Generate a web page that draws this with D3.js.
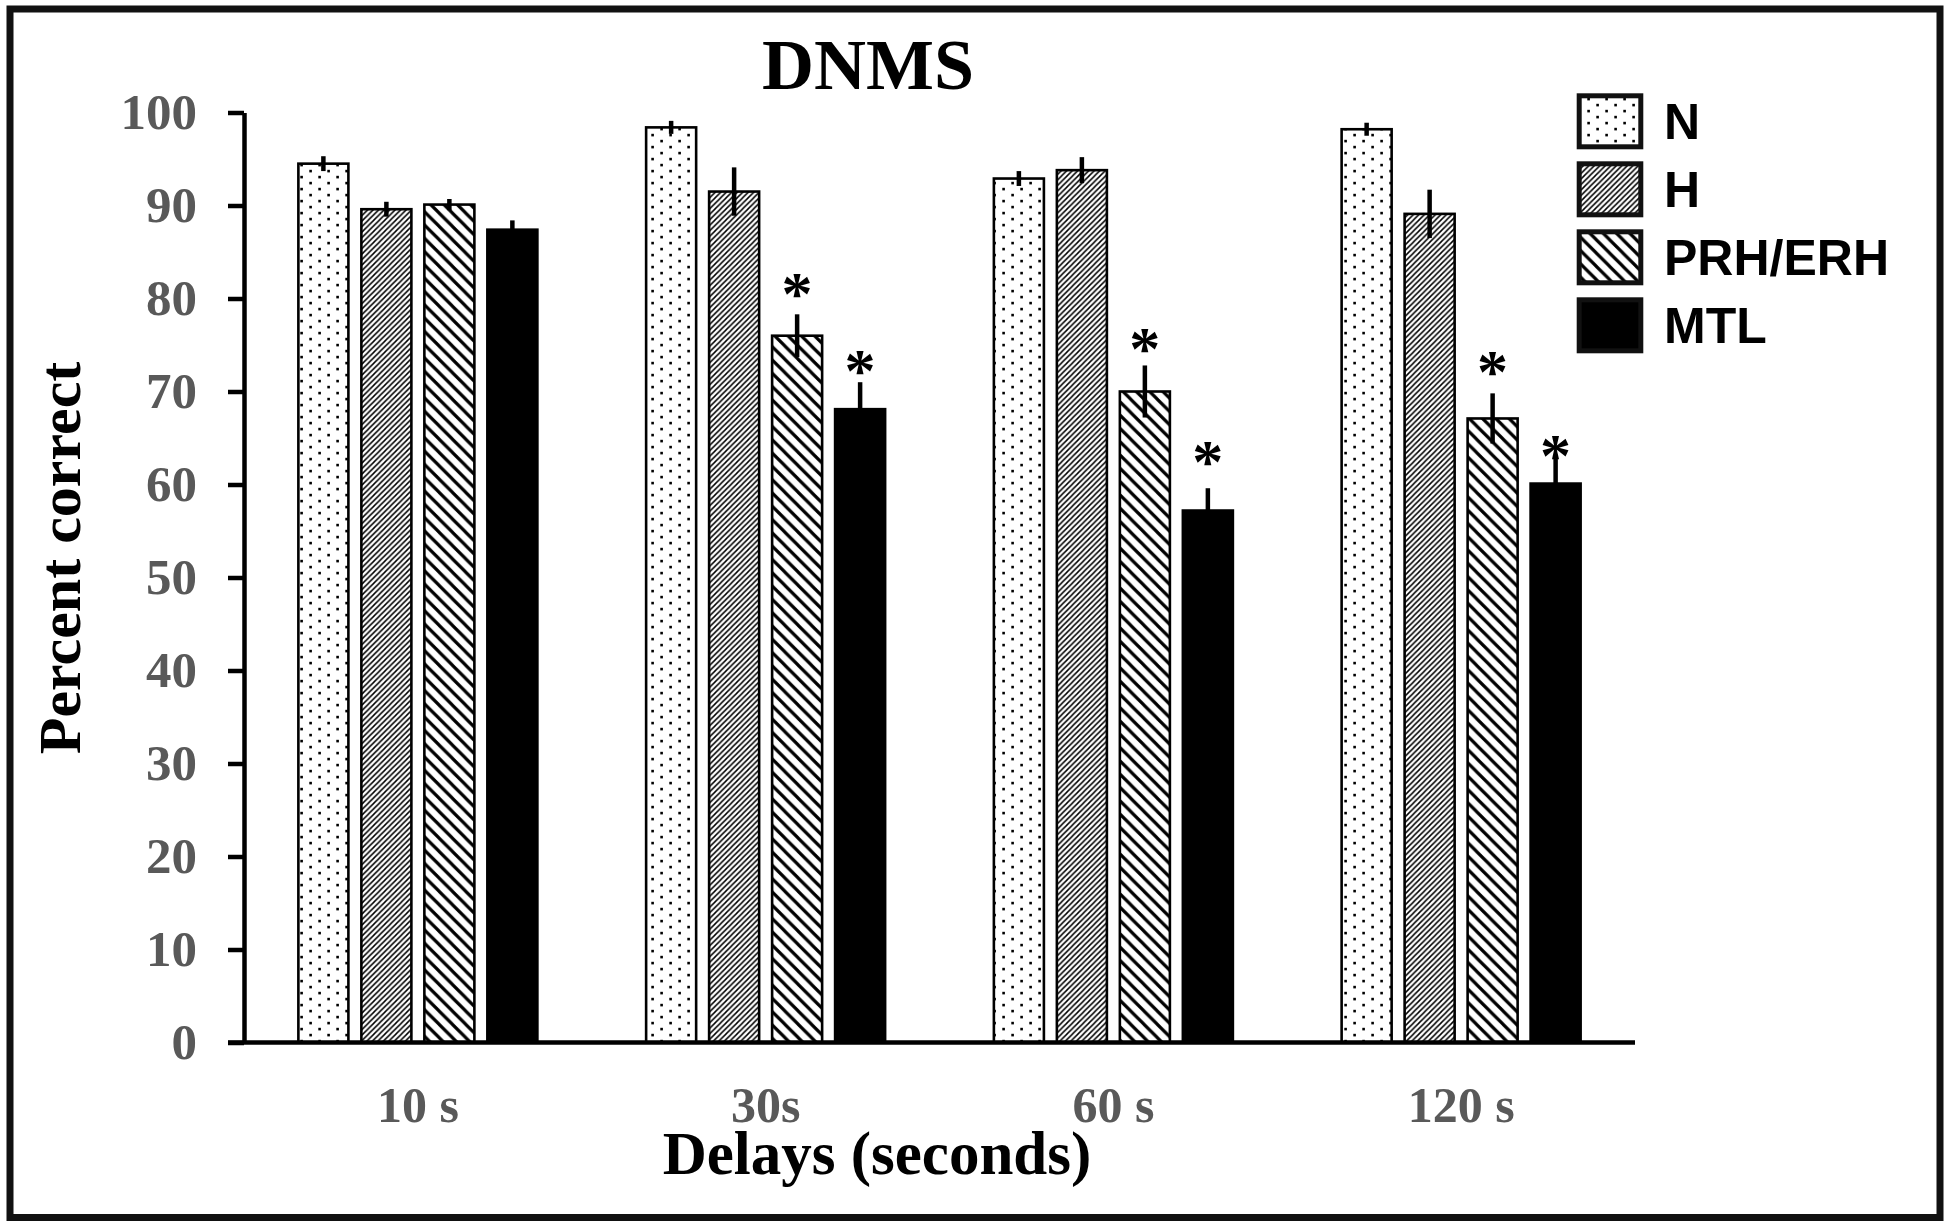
<!DOCTYPE html>
<html>
<head>
<meta charset="utf-8">
<script src="https://cdn.jsdelivr.net/npm/d3@7/dist/d3.min.js"></script>
<style>
  html, body { margin: 0; padding: 0; background: #fff; }
  svg { display: block; }
</style>
</head>
<body>
<svg id="chart" width="1950" height="1227"></svg>
<script>
// ---------- DATA ----------
const delays = ["10 s", "30s", "60 s", "120 s"];
const groups = ["N", "H", "PRH/ERH", "MTL"];
const valuesN   = [94.5, 98.4, 92.9, 98.2];
const valuesH   = [89.6, 91.5, 93.8, 89.1];
const valuesPRH = [90.1, 76.0, 70.0, 67.1];
const valuesMTL = [87.4, 68.1, 57.2, 60.1];
const errN   = [0.8, 0.7, 0.8, 0.7];
const errH   = [0.8, 2.6, 1.4, 2.6];
const errPRH = [0.6, 2.3, 2.8, 2.7];
const errMTL = [1.0, 2.9, 2.4, 3.0];
// significance marks (asterisk centre, in percent units); null = none
const starPRH = [null, 81.5, 75.5, 73.1];
const starMTL = [null, 73.2, 63.4, 64.1];
const yTicks = [0, 10, 20, 30, 40, 50, 60, 70, 80, 90, 100];
const titleText = "DNMS";
const xTitle = "Delays (seconds)";
const yTitle = "Percent correct";

const seriesVals = [valuesN, valuesH, valuesPRH, valuesMTL];
const seriesErr  = [errN, errH, errPRH, errMTL];
const seriesStar = [null, null, starPRH, starMTL];
const fills = ["url(#pDots)", "url(#pFine)", "url(#pWide)", "#000"];

const svg = d3.select("#chart");
const serif = "'Liberation Serif', 'Times New Roman', serif";
const sans = "'Liberation Sans', Arial, sans-serif";

// ---------- PATTERNS ----------
const defs = svg.append("defs");
const pd = defs.append("pattern").attr("id", "pDots").attr("patternUnits", "userSpaceOnUse")
  .attr("width", 18).attr("height", 12);
pd.append("rect").attr("width", 18).attr("height", 12).attr("fill", "#fff");
pd.append("rect").attr("x", 3.3).attr("y", 1.8).attr("width", 2.6).attr("height", 2.6).attr("fill", "#000");
pd.append("rect").attr("x", 12.3).attr("y", 7.8).attr("width", 2.6).attr("height", 2.6).attr("fill", "#000");

const s1 = 5.5;
const pf = defs.append("pattern").attr("id", "pFine").attr("patternUnits", "userSpaceOnUse")
  .attr("width", s1).attr("height", s1);
pf.append("rect").attr("width", s1).attr("height", s1).attr("fill", "#fff");
pf.append("path").attr("d", `M0,${s1} L${s1},0 M-1,1 L1,-1 M${s1-1},${s1+1} L${s1+1},${s1-1}`)
  .attr("stroke", "#000").attr("stroke-width", 1.5);

const s2 = 13.3;
const pw = defs.append("pattern").attr("id", "pWide").attr("patternUnits", "userSpaceOnUse")
  .attr("width", s2).attr("height", s2);
pw.append("rect").attr("width", s2).attr("height", s2).attr("fill", "#fff");
pw.append("path").attr("d", `M0,0 L${s2},${s2} M-3,${s2-3} L3,${s2+3} M${s2-3},-3 L${s2+3},3`)
  .attr("stroke", "#000").attr("stroke-width", 3.2);

// ---------- FRAME ----------
svg.append("rect").attr("x", 10).attr("y", 9).attr("width", 1930).attr("height", 1208.5)
  .attr("fill", "none").attr("stroke", "#111").attr("stroke-width", 7);

// ---------- SCALES ----------
const y = d3.scaleLinear().domain([0, 100]).range([1042.5, 112.5]);
const x0 = d3.scaleBand().domain(delays).range([244, 1635]).padding(0);
const groupW = 239;
const x1 = d3.scaleBand().domain(groups)
  .range([(x0.bandwidth() - groupW) / 2, (x0.bandwidth() + groupW) / 2])
  .paddingInner(0.206).paddingOuter(0);

// ---------- BARS ----------
const g = svg.append("g");
groups.forEach((grp, si) => {
  delays.forEach((d, di) => {
    const v = seriesVals[si][di];
    const bx = x0(d) + x1(grp);
    const bw = x1.bandwidth();
    g.append("rect")
      .attr("x", bx).attr("y", y(v))
      .attr("width", bw).attr("height", y(0) - y(v))
      .attr("fill", fills[si]).attr("stroke", "#000").attr("stroke-width", 2.6);
  });
});
// error bars
groups.forEach((grp, si) => {
  delays.forEach((d, di) => {
    const v = seriesVals[si][di], e = seriesErr[si][di];
    const cx = x0(d) + x1(grp) + x1.bandwidth() / 2;
    g.append("line").attr("x1", cx).attr("x2", cx)
      .attr("y1", y(v + e)).attr("y2", y(v - e))
      .attr("stroke", "#000").attr("stroke-width", 4.5);
  });
});
// asterisks
groups.forEach((grp, si) => {
  const st = seriesStar[si];
  if (!st) return;
  delays.forEach((d, di) => {
    if (st[di] == null) return;
    const cx = x0(d) + x1(grp) + x1.bandwidth() / 2;
    g.append("text").attr("x", cx).attr("y", y(st[di]) + 0.47 * 62)
      .attr("text-anchor", "middle")
      .attr("font-family", serif).attr("font-weight", "bold").attr("font-size", 62)
      .attr("fill", "#000").text("*");
  });
});

// ---------- AXES ----------
const yAxis = d3.axisLeft(y).tickValues(yTicks).tickSize(16).tickSizeOuter(0).tickPadding(31)
  .tickFormat(d3.format("d"));
const ya = svg.append("g").attr("transform", "translate(244,0)").call(yAxis);
ya.select(".domain").attr("stroke", "#000").attr("stroke-width", 4.5);
ya.selectAll(".tick line").attr("stroke", "#000").attr("stroke-width", 4.5);
ya.selectAll(".tick text").attr("font-family", serif).attr("font-weight", "bold")
  .attr("font-size", 51).attr("fill", "#595959");

// x baseline
svg.append("line").attr("x1", x0.range()[0] - 16).attr("x2", x0.range()[1])
  .attr("y1", y(0)).attr("y2", y(0)).attr("stroke", "#000").attr("stroke-width", 4.5);

const xAxis = d3.axisBottom(x0).tickSize(0).tickPadding(44);
const xa = svg.append("g").attr("transform", `translate(0,${y(0)})`).call(xAxis);
xa.select(".domain").remove();
xa.selectAll(".tick text").attr("font-family", serif).attr("font-weight", "bold")
  .attr("font-size", 50).attr("fill", "#595959");

// ---------- TITLES ----------
svg.append("text").attr("x", 868).attr("y", 89).attr("text-anchor", "middle")
  .attr("font-family", serif).attr("font-weight", "bold").attr("font-size", 72)
  .attr("fill", "#000").text(titleText);

svg.append("text").attr("x", 877).attr("y", 1174).attr("text-anchor", "middle")
  .attr("font-family", serif).attr("font-weight", "bold").attr("font-size", 61)
  .attr("fill", "#000").text(xTitle);

svg.append("text").attr("transform", "translate(80,558) rotate(-90)").attr("text-anchor", "middle")
  .attr("font-family", serif).attr("font-weight", "bold").attr("font-size", 60)
  .attr("fill", "#000").text(yTitle);

// ---------- LEGEND ----------
const leg = svg.append("g");
groups.forEach((grp, i) => {
  const top = 95.8 + i * 68;
  leg.append("rect").attr("x", 1579.2).attr("y", top).attr("width", 61.6).attr("height", 51)
    .attr("fill", fills[i]).attr("stroke", "#111").attr("stroke-width", 5);
  leg.append("text").attr("x", 1664).attr("y", top + 25.5 + 17.5)
    .attr("font-family", sans).attr("font-weight", "bold").attr("font-size", 50)
    .attr("fill", "#000").text(grp);
});
</script>
</body>
</html>
